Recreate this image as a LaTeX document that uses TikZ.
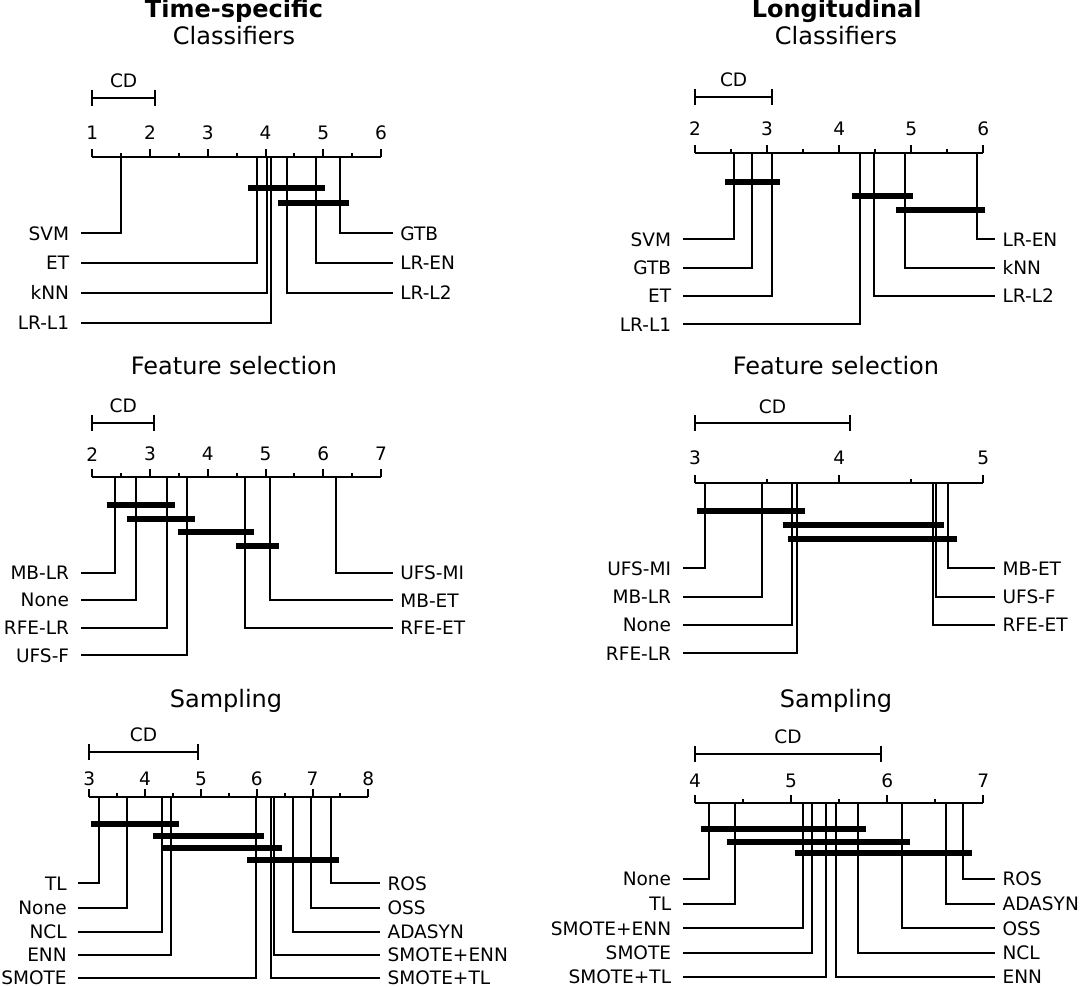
\documentclass[tikz,border=0pt]{standalone}
\usepackage{fontspec}
\setmainfont{DejaVu Sans}
\begin{document}
\begin{tikzpicture}[x=0.75pt,y=-0.75pt]
    \newcommand{\lblfont}{\fontsize{13.9}{16}\selectfont}
    \newcommand{\ttlfont}{\fontsize{18}{21}\selectfont}
    \newcommand{\cdaxis}[7]{
      \draw[rline] (#2,#4) -- (#3,#4);
      \pgfmathtruncatemacro{\nt}{2*(#6-#5)}
      \foreach \i in {0,...,\nt}{
        \pgfmathsetmacro{\tx}{#2+\i*(#3-#2)/\nt}
        \ifodd\i
          \draw[rline] (\tx,#4) -- (\tx,#4-4);
        \else
          \pgfmathtruncatemacro{\tv}{#5+\i/2}
          \draw[rline] (\tx,#4) -- (\tx,#4-8);
          \node[lbl] (#1-t\tv) at (\tx,#4-#7) {\tv};
        \fi
      }
    }
    \newcommand{\cdbar}[4]{
      \draw[rline] (#2,#4) -- (#3,#4);
      \draw[rline] (#2,#4-8) -- (#2,#4+8);
      \draw[rline] (#3,#4-8) -- (#3,#4+8);
      \node[lbl] (#1) at ({(#2+#3)/2},#4-17) {CD};
    }

    \tikzstyle{rline}  = [line width=1.5pt,draw=black]
    \tikzstyle{clique} = [line width=4.5pt,draw=black]
    \tikzstyle{lbl}  = [font=\lblfont,inner sep=0pt,anchor=center]
    \tikzstyle{llbl} = [font=\lblfont,anchor=east,inner xsep=8.5pt,inner ysep=0pt]
    \tikzstyle{rlbl} = [font=\lblfont,anchor=west,inner xsep=5.5pt,inner ysep=0pt]
    \tikzstyle{ttl}  = [font=\ttlfont,anchor=base,inner sep=0pt]

    \useasboundingbox (0,0) rectangle (1082,986);

    \node[ttl] (head-ts) at (234,17.5) {\textbf{Time-specific}};
    \node[ttl] (head-tc) at (234,44.3) {Classifiers};
    \node[ttl] (head-lg) at (836.7,17.5) {\textbf{Longitudinal}};
    \node[ttl] (head-lc) at (836,44.3) {Classifiers};
    \node[ttl] (head-tf) at (234,374) {Feature selection};
    \node[ttl] (head-lf) at (836,374) {Feature selection};
    \node[ttl] (head-tsa) at (226,707) {Sampling};
    \node[ttl] (head-lsa) at (836,707) {Sampling};

    % time-specific classifiers
    \cdbar{tc-cd}{92.3}{155}{97.7}
    \cdaxis{tc}{92.3}{381}{157.3}{1}{6}{24.6}
    \node[llbl] (tc-svm) at (80.7,233.3) {SVM};
    \node[llbl] (tc-et) at (80.7,262.7) {ET};
    \node[llbl] (tc-knn) at (80.7,292.7) {kNN};
    \node[llbl] (tc-lrl1) at (80.7,322.7) {LR-L1};
    \node[rlbl] (tc-gtb) at (392.7,233.3) {GTB};
    \node[rlbl] (tc-lren) at (392.7,262.7) {LR-EN};
    \node[rlbl] (tc-lrl2) at (392.7,292.7) {LR-L2};
    \draw[rline] (120.7,157.3) |- (tc-svm.east);
    \draw[rline] (256.7,157.3) |- (tc-et.east);
    \draw[rline] (266.7,157.3) |- (tc-knn.east);
    \draw[rline] (270.7,157.3) |- (tc-lrl1.east);
    \draw[rline] (340.3,157.3) |- (tc-gtb.west);
    \draw[rline] (316,157.3) |- (tc-lren.west);
    \draw[rline] (286.7,157.3) |- (tc-lrl2.west);
    \draw[clique] (247.7,187.7) -- (325.3,187.7);
    \draw[clique] (278.3,202.7) -- (349,202.7);

    % longitudinal classifiers
    \cdbar{lc-cd}{695}{772.3}{96.7}
    \cdaxis{lc}{695}{983.3}{152.7}{2}{6}{23.9}
    \node[llbl] (lc-svm) at (682.7,239.3) {SVM};
    \node[llbl] (lc-gtb) at (682.7,267.7) {GTB};
    \node[llbl] (lc-et) at (682.7,296) {ET};
    \node[llbl] (lc-lrl1) at (682.7,324.3) {LR-L1};
    \node[rlbl] (lc-lren) at (995,239.3) {LR-EN};
    \node[rlbl] (lc-knn) at (995,267.7) {kNN};
    \node[rlbl] (lc-lrl2) at (995,296) {LR-L2};
    \draw[rline] (733.7,152.7) |- (lc-svm.east);
    \draw[rline] (752.3,152.7) |- (lc-gtb.east);
    \draw[rline] (771.7,152.7) |- (lc-et.east);
    \draw[rline] (860,152.7) |- (lc-lrl1.east);
    \draw[rline] (977,152.7) |- (lc-lren.west);
    \draw[rline] (904.7,152.7) |- (lc-knn.west);
    \draw[rline] (873.7,152.7) |- (lc-lrl2.west);
    \draw[clique] (725,181.7) -- (780,181.7);
    \draw[clique] (851.7,196) -- (913.3,196);
    \draw[clique] (896,210) -- (985,210);

    % time-specific feature selection
    \cdbar{tf-cd}{92.3}{154.3}{422.7}
    \cdaxis{tf}{92.3}{381}{477.3}{2}{7}{23.1}
    \node[llbl] (tf-mblr) at (80.7,572.7) {MB-LR};
    \node[llbl] (tf-none) at (80.7,600.3) {None};
    \node[llbl] (tf-rfelr) at (80.7,627.7) {RFE-LR};
    \node[llbl] (tf-ufsf) at (80.7,655.3) {UFS-F};
    \node[rlbl] (tf-ufsmi) at (392.7,572.7) {UFS-MI};
    \node[rlbl] (tf-mbet) at (392.7,600.3) {MB-ET};
    \node[rlbl] (tf-rfeet) at (392.7,627.7) {RFE-ET};
    \draw[rline] (115,477.3) |- (tf-mblr.east);
    \draw[rline] (135.7,477.3) |- (tf-none.east);
    \draw[rline] (166.7,477.3) |- (tf-rfelr.east);
    \draw[rline] (186.7,477.3) |- (tf-ufsf.east);
    \draw[rline] (336,477.3) |- (tf-ufsmi.west);
    \draw[rline] (270,477.3) |- (tf-mbet.west);
    \draw[rline] (245.3,477.3) |- (tf-rfeet.west);
    \draw[clique] (106.7,505) -- (175.3,505);
    \draw[clique] (127,518.7) -- (195.3,518.7);
    \draw[clique] (177.7,532.3) -- (254,532.3);
    \draw[clique] (236,545.7) -- (279.3,545.7);

    % longitudinal feature selection
    \cdbar{lf-cd}{695}{850}{423.3}
    \cdaxis{lf}{695}{983.3}{482.7}{3}{5}{24.9}
    \node[llbl] (lf-ufsmi) at (682.7,568.3) {UFS-MI};
    \node[llbl] (lf-mblr) at (682.7,596.7) {MB-LR};
    \node[llbl] (lf-none) at (682.7,625) {None};
    \node[llbl] (lf-rfelr) at (682.7,653.3) {RFE-LR};
    \node[rlbl] (lf-mbet) at (995,568.3) {MB-ET};
    \node[rlbl] (lf-ufsf) at (995,596.7) {UFS-F};
    \node[rlbl] (lf-rfeet) at (995,625) {RFE-ET};
    \draw[rline] (705.3,482.7) |- (lf-ufsmi.east);
    \draw[rline] (761.7,482.7) |- (lf-mblr.east);
    \draw[rline] (791.7,482.7) |- (lf-none.east);
    \draw[rline] (796.7,482.7) |- (lf-rfelr.east);
    \draw[rline] (948,482.7) |- (lf-mbet.west);
    \draw[rline] (935.7,482.7) |- (lf-ufsf.west);
    \draw[rline] (933.3,482.7) |- (lf-rfeet.west);
    \draw[clique] (696.7,510.7) -- (805,510.7);
    \draw[clique] (782.7,525) -- (944.3,525);
    \draw[clique] (788.3,539.3) -- (956.7,539.3);

    % time-specific sampling
    \cdbar{tsa-cd}{89.3}{197.7}{751.7}
    \cdaxis{tsa}{89.3}{368.3}{796.7}{3}{8}{17.7}
    \node[llbl] (tsa-tl) at (78.3,883.3) {TL};
    \node[llbl] (tsa-none) at (78.3,908) {None};
    \node[llbl] (tsa-ncl) at (78.3,931.5) {NCL};
    \node[llbl] (tsa-enn) at (78.3,955) {ENN};
    \node[llbl] (tsa-smote) at (78.3,977.5) {SMOTE};
    \node[rlbl] (tsa-ros) at (380,883.3) {ROS};
    \node[rlbl] (tsa-oss) at (380,908) {OSS};
    \node[rlbl] (tsa-adasyn) at (380,931.5) {ADASYN};
    \node[rlbl] (tsa-smenn) at (380,955) {SMOTE+ENN};
    \node[rlbl] (tsa-smtl) at (380,977.5) {SMOTE+TL};
    \draw[rline] (99,796.7) |- (tsa-tl.east);
    \draw[rline] (127,796.7) |- (tsa-none.east);
    \draw[rline] (161.7,796.7) |- (tsa-ncl.east);
    \draw[rline] (171,796.7) |- (tsa-enn.east);
    \draw[rline] (256.3,796.7) |- (tsa-smote.east);
    \draw[rline] (331,796.7) |- (tsa-ros.west);
    \draw[rline] (310.7,796.7) |- (tsa-oss.west);
    \draw[rline] (292.7,796.7) |- (tsa-adasyn.west);
    \draw[rline] (273.7,796.7) |- (tsa-smenn.west);
    \draw[rline] (270.7,796.7) |- (tsa-smtl.west);
    \draw[clique] (91,824.3) -- (179,824.3);
    \draw[clique] (152.7,836.3) -- (264.3,836.3);
    \draw[clique] (161.7,848.3) -- (281.7,848.3);
    \draw[clique] (247.3,860.3) -- (339.3,860.3);

    % longitudinal sampling
    \cdbar{lsa-cd}{695}{881}{754}
    \cdaxis{lsa}{695}{983.3}{802.7}{4}{7}{21.7}
    \node[llbl] (lsa-none) at (682.7,879) {None};
    \node[llbl] (lsa-tl) at (682.7,904) {TL};
    \node[llbl] (lsa-smenn) at (682.7,928.3) {SMOTE+ENN};
    \node[llbl] (lsa-smote) at (682.7,953) {SMOTE};
    \node[llbl] (lsa-smtl) at (682.7,976.5) {SMOTE+TL};
    \node[rlbl] (lsa-ros) at (995,879) {ROS};
    \node[rlbl] (lsa-adasyn) at (995,904) {ADASYN};
    \node[rlbl] (lsa-oss) at (995,928.3) {OSS};
    \node[rlbl] (lsa-ncl) at (995,953) {NCL};
    \node[rlbl] (lsa-enn) at (995,976.5) {ENN};
    \draw[rline] (709.3,802.7) |- (lsa-none.east);
    \draw[rline] (735,802.7) |- (lsa-tl.east);
    \draw[rline] (803.3,802.7) |- (lsa-smenn.east);
    \draw[rline] (811.7,802.7) |- (lsa-smote.east);
    \draw[rline] (825.7,802.7) |- (lsa-smtl.east);
    \draw[rline] (963.3,802.7) |- (lsa-ros.west);
    \draw[rline] (946,802.7) |- (lsa-adasyn.west);
    \draw[rline] (901.7,802.7) |- (lsa-oss.west);
    \draw[rline] (857.7,802.7) |- (lsa-ncl.west);
    \draw[rline] (836,802.7) |- (lsa-enn.west);
    \draw[clique] (700.7,829) -- (866,829);
    \draw[clique] (726.7,841.7) -- (910,841.7);
    \draw[clique] (795,853.3) -- (972.3,853.3);
\end{tikzpicture}
\end{document}
